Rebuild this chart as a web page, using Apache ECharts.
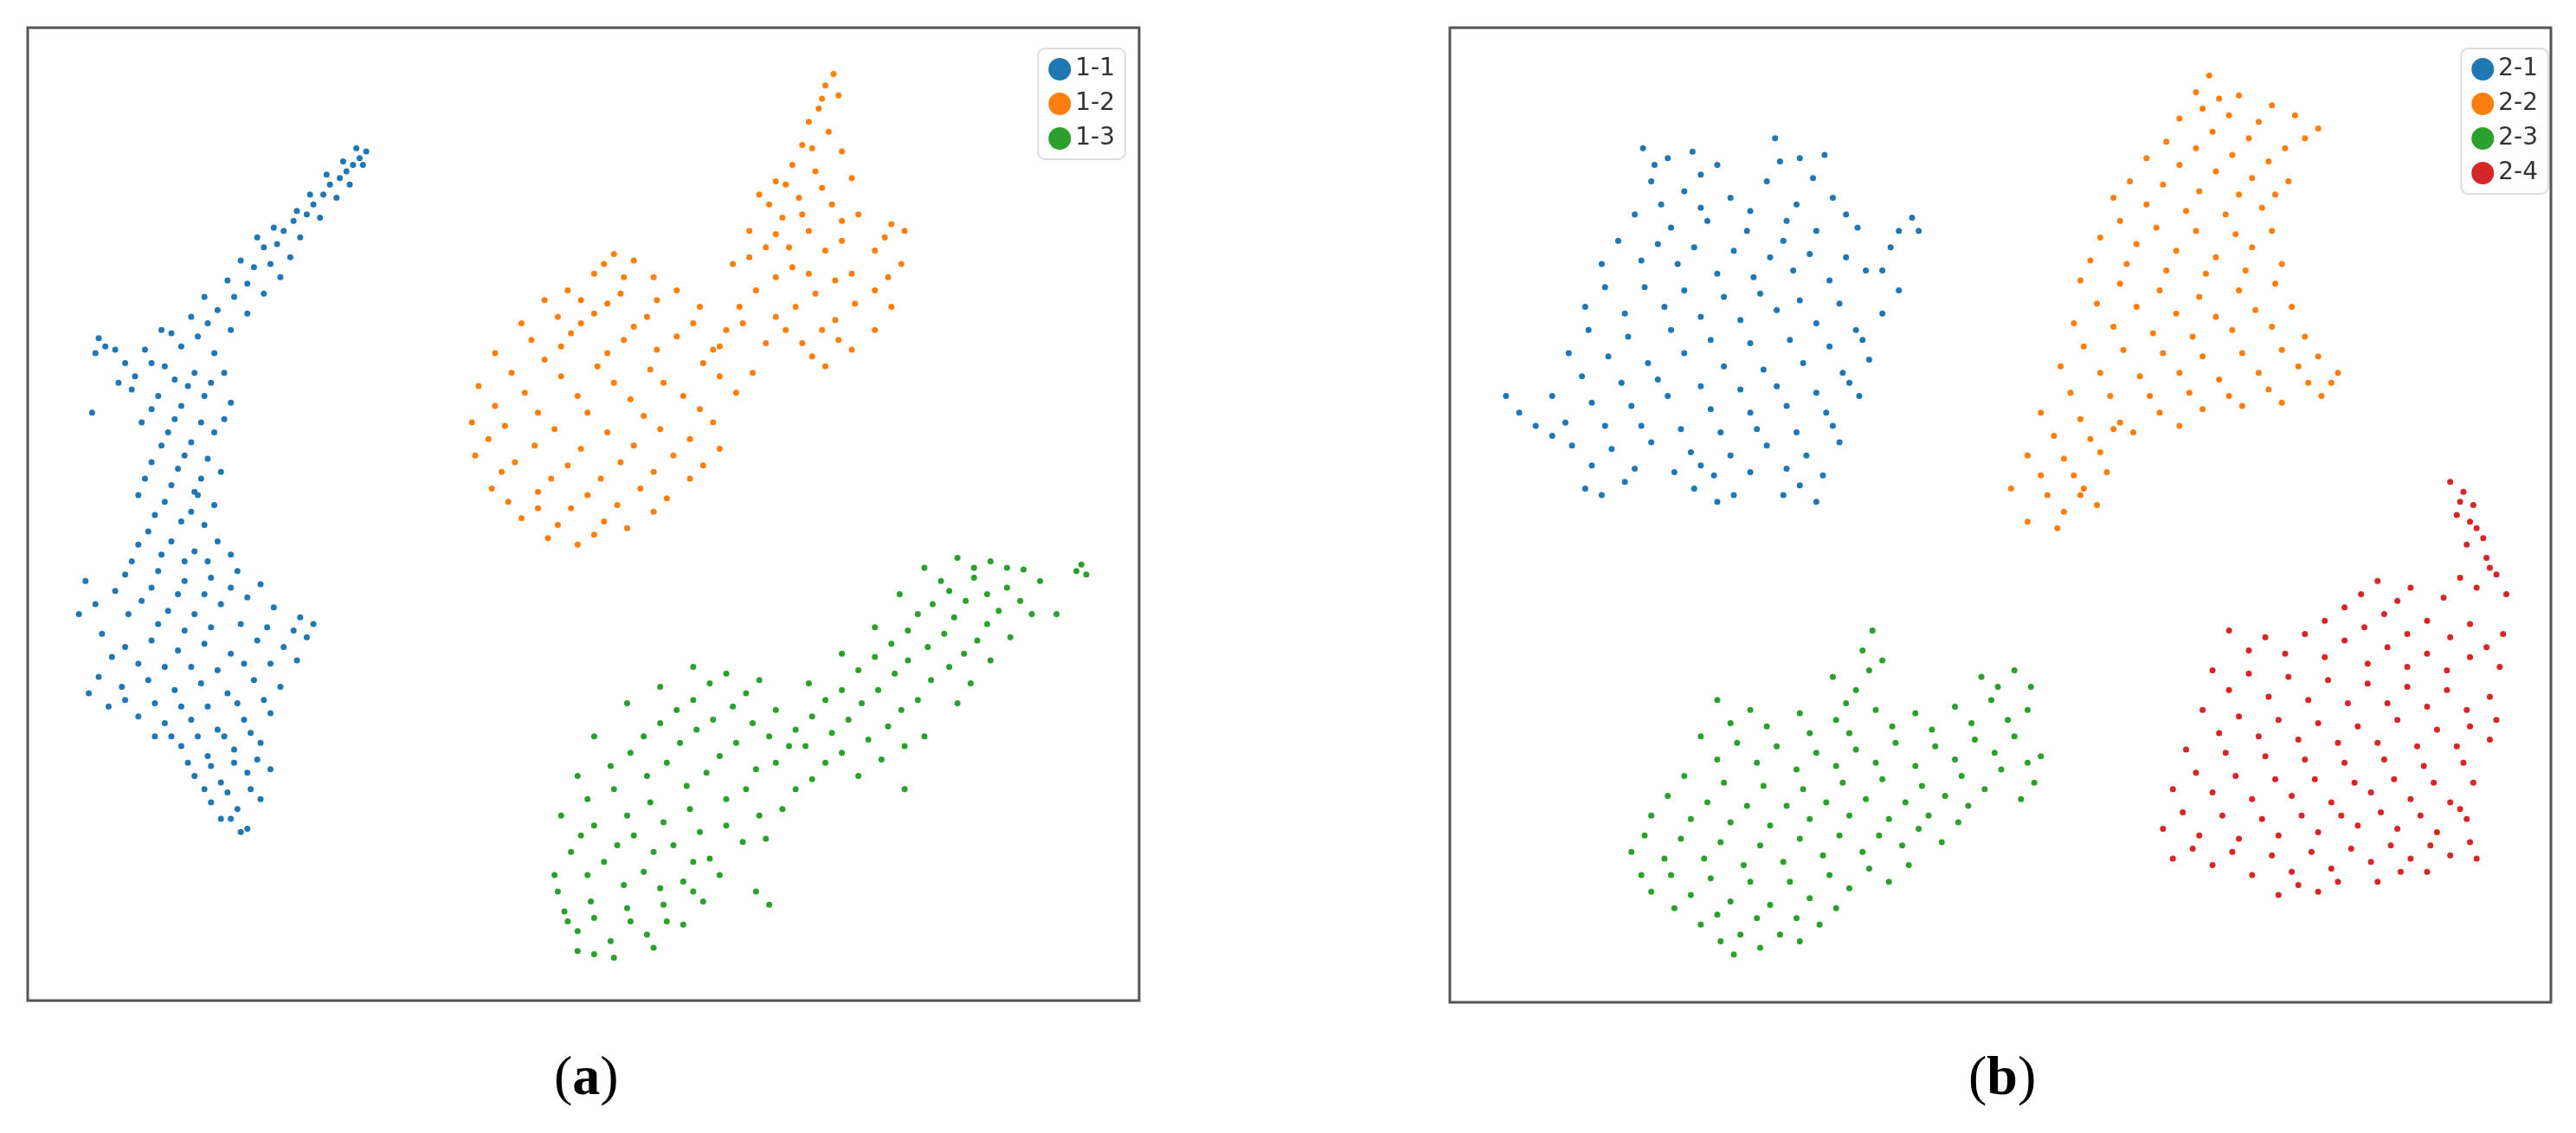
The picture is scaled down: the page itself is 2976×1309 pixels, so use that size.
<!DOCTYPE html>
<html><head><meta charset="utf-8">
<script src="https://cdn.jsdelivr.net/npm/echarts@6/dist/echarts.min.js"></script>
<style>html,body{margin:0;background:#fff}#c{width:2976px;height:1309px}</style>
</head><body><div id="c"></div>
<script>
const a11=[[222,92],[218,96],[214,100],[210,104],[206,108],[220,100],[212,112],[200,112],[196,118],[204,120],[190,124],[186,130],[194,132],[178,134],[172,140],[182,144],[168,148],[160,150],[176,156],[164,160],[154,162],[170,168],[150,172],[160,178],[142,180],[132,188],[150,190],[126,196],[140,200],[120,204],[110,210],[130,214],[60,205],[64,210],[58,214],[76,220],[88,212],[100,222],[118,226],[136,226],[80,236],[96,240],[110,246],[124,240],[140,244],[86,256],[102,262],[116,268],[130,262],[92,280],[108,284],[122,290],[134,286],[84,300],[100,304],[116,310],[130,306],[90,322],[104,328],[118,334],[132,328],[80,340],[96,346],[112,352],[128,350],[144,346],[70,358],[86,364],[102,370],[118,372],[134,366],[150,362],[166,368],[182,374],[190,378],[48,372],[52,352],[62,384],[76,392],[92,388],[108,394],[124,390],[140,396],[156,388],[172,392],[186,386],[60,410],[74,416],[90,412],[106,418],[122,414],[138,420],[154,412],[170,416],[66,428],[84,434],[100,438],[116,436],[132,442],[148,436],[164,432],[110,452],[126,458],[142,454],[158,450],[118,470],[134,474],[150,468],[164,466],[128,486],[144,490],[158,484],[150,502],[140,496],[120,300],[72,232],[56,250],[98,200],[106,230],
[216,90],[208,98],[198,106],[188,118],[180,128],[166,138],[156,144],[146,158],[138,170],[124,180],[116,192],[104,202],[92,220],[70,212],[82,228],[114,234],[128,232],[92,248],[106,254],[122,256],[136,254],[98,270],[112,276],[126,278],[88,290],[104,294],[118,298],[94,312],[110,316],[124,318],[84,330],[98,336],[112,340],[126,340],[140,336],[76,348],[92,356],[108,360],[124,360],[140,356],[158,354],[58,366],[78,372],[96,378],[112,382],[128,380],[146,378],[162,380],[178,382],[68,398],[84,402],[100,404],[116,404],[132,406],[148,402],[164,402],[180,400],[54,420],[76,424],[94,426],[110,428],[126,428],[144,426],[160,424],[94,446],[104,446],[120,446],[136,446],[152,444],[114,462],[128,464],[142,462],[156,460],[124,478],[138,480],[152,478],[134,496],[146,504]];
const a12=[[505,45],[500,52],[508,58],[496,66],[490,74],[502,80],[486,88],[510,92],[480,100],[494,104],[470,110],[516,108],[460,118],[484,120],[504,124],[474,132],[520,130],[454,140],[490,140],[540,136],[548,140],[464,150],[500,152],[530,152],[444,160],[480,162],[516,166],[546,160],[458,176],[494,178],[530,176],[470,192],[506,194],[540,186],[486,208],[516,212],[500,222],[476,200],[450,196],[436,210],[530,200],[372,154],[384,158],[360,166],[396,168],[344,176],[376,178],[410,176],[330,182],[360,190],[392,192],[424,186],[316,196],[346,202],[378,206],[410,204],[440,200],[300,214],[330,218],[362,222],[394,224],[426,220],[456,226],[290,234],[318,238],[350,240],[382,242],[414,240],[446,238],[286,256],[306,258],[336,260],[368,262],[400,260],[432,256],[288,276],[312,280],[344,282],[376,280],[408,276],[436,272],[298,296],[326,298],[356,300],[388,296],[418,290],[316,314],[338,318],[366,316],[396,310],[350,330],[332,326],[380,320],
[498,60],[492,90],[476,112],[498,114],[466,124],[486,130],[510,134],[470,142],[478,150],[510,146],[536,144],[454,156],[470,168],[490,166],[506,170],[538,168],[448,186],[482,186],[518,184],[498,200],[464,208],[492,216],[508,206],[366,160],[378,168],[352,182],[368,184],[398,182],[338,192],[352,196],[384,198],[420,196],[322,206],[340,210],[368,214],[398,212],[432,212],[310,226],[340,228],[372,232],[402,232],[436,228],[300,246],[326,250],[356,250],[390,252],[424,248],[296,266],[324,270],[352,272],[384,270],[418,266],[304,286],[334,290],[364,290],[396,286],[426,282],[308,304],[346,308],[374,306],[404,302],[326,308],[360,324]];
const a13=[[655,342],[658,348],[652,346],[620,345],[600,340],[580,338],[560,344],[570,352],[590,350],[610,356],[630,352],[545,360],[565,366],[585,364],[605,370],[625,372],[640,372],[530,380],[550,382],[572,384],[592,388],[612,386],[510,396],[530,398],[550,400],[575,404],[600,400],[490,414],[510,418],[532,418],[556,424],[580,426],[470,430],[492,434],[514,436],[538,440],[560,446],[420,404],[440,408],[460,412],[400,416],[420,424],[444,428],[466,446],[488,452],[510,456],[534,460],[548,478],[380,426],[400,438],[422,442],[446,450],[470,462],[492,472],[360,446],[382,456],[404,462],[428,468],[452,478],[474,490],[350,470],[372,478],[394,486],[418,490],[440,500],[464,508],[340,494],[360,500],[384,506],[408,512],[430,520],[346,516],[366,522],[390,528],[414,534],[338,540],[358,546],[380,550],[402,548],[426,546],[350,564],[370,570],[392,566],[414,560],[360,578],[466,548],[458,540],[436,530],[336,530],[342,552],
[610,344],[590,344],[575,358],[598,360],[618,364],[556,372],[578,374],[598,378],[540,390],[562,392],[584,396],[520,406],[542,408],[564,412],[588,414],[500,424],[522,426],[546,430],[482,442],[504,444],[526,448],[548,452],[430,414],[452,420],[410,430],[432,436],[456,438],[478,452],[500,462],[520,470],[390,446],[412,450],[436,458],[458,466],[482,478],[370,464],[392,470],[416,476],[440,484],[460,494],[356,484],[380,494],[402,498],[424,504],[450,510],[352,506],[374,512],[396,516],[420,522],[356,530],[378,536],[400,538],[420,540],[344,558],[360,556],[382,558],[404,558],[372,580],[350,576],[396,574]];
const b21=[[995,90],[1010,96],[1025,92],[1040,100],[1075,84],[1090,96],[1105,94],[1000,110],[1020,116],[1048,120],[1070,110],[1088,124],[1110,120],[990,130],[1012,138],[1034,134],[1058,140],[1080,146],[1100,140],[1125,138],[1145,150],[1158,132],[1162,140],[970,160],[994,158],[1016,160],[1040,166],[1062,168],[1086,164],[1108,170],[1130,164],[1150,176],[960,186],[984,190],[1008,186],[1030,192],[1054,194],[1076,188],[1100,196],[1124,200],[1140,190],[950,214],[974,216],[998,220],[1020,214],[1044,222],[1068,224],[1092,220],[1116,226],[1132,218],[940,240],[964,244],[988,246],[1010,240],[1036,248],[1060,250],[1082,246],[1106,250],[1126,240],[952,270],[976,272],[1000,268],[1024,274],[1048,276],[1070,270],[1094,276],[1114,268],[960,296],[984,292],[1026,296],[1050,300],[1090,294],[1100,304],[912,240],[920,250],[930,258],[940,264],[970,300],
[1002,100],[1030,106],[1078,98],[1098,108],[1006,124],[1030,126],[1060,128],[1082,134],[1118,130],[1150,140],[980,146],[1004,148],[1026,150],[1050,152],[1072,156],[1096,154],[1118,156],[1140,164],[972,174],[996,174],[1020,176],[1044,180],[1066,178],[1090,182],[1114,184],[962,200],[986,204],[1012,200],[1036,206],[1060,208],[1084,206],[1108,210],[1128,206],[958,228],[982,232],[1004,230],[1030,234],[1054,236],[1076,234],[1100,238],[1120,232],[948,256],[972,258],[994,258],[1018,260],[1042,262],[1064,260],[1088,262],[1110,258],[964,282],[990,284],[1014,286],[1038,288],[1060,286],[1082,284],[1104,288],[1030,282],[1040,304],[1080,300]];
const b22=[[1338,46],[1330,56],[1344,60],[1356,58],[1376,64],[1390,70],[1404,78],[1320,72],[1340,80],[1362,84],[1384,90],[1300,96],[1320,100],[1342,104],[1364,108],[1280,120],[1300,124],[1324,128],[1348,130],[1370,126],[1272,144],[1294,148],[1318,152],[1342,156],[1364,150],[1260,170],[1284,172],[1308,176],[1332,180],[1356,176],[1378,172],[1256,196],[1280,198],[1304,202],[1328,204],[1352,200],[1376,198],[1396,204],[1248,222],[1272,226],[1296,228],[1320,226],[1344,230],[1368,226],[1392,222],[1412,232],[1236,250],[1260,254],[1284,256],[1308,250],[1334,248],[1358,246],[1382,244],[1406,240],[1228,276],[1250,278],[1272,274],[1218,296],[1240,300],[1262,296],[1228,316],[1250,310],[1270,306],[1386,110],[1280,260],
[1334,66],[1350,70],[1368,74],[1396,84],[1312,86],[1330,90],[1352,94],[1374,98],[1290,110],[1310,112],[1332,116],[1356,118],[1378,118],[1284,134],[1306,138],[1330,140],[1354,142],[1376,140],[1266,158],[1288,160],[1312,164],[1336,166],[1360,164],[1382,160],[1270,184],[1294,186],[1318,190],[1342,192],[1366,188],[1388,186],[1262,210],[1286,212],[1310,214],[1334,216],[1358,214],[1382,212],[1404,216],[1254,238],[1278,240],[1302,240],[1326,238],[1350,240],[1374,236],[1398,232],[1416,226],[1244,264],[1266,266],[1292,262],[1320,258],[1236,288],[1256,288],[1276,286],[1246,320],[1260,300]];
const b23=[[1134,382],[1128,394],[1140,400],[1110,410],[1124,418],[1200,410],[1220,406],[1230,416],[1040,424],[1060,430],[1090,432],[1112,436],[1136,430],[1160,432],[1184,428],[1206,424],[1228,430],[1030,446],[1052,450],[1076,452],[1100,456],[1124,454],[1148,450],[1172,452],[1196,448],[1220,446],[1236,458],[1020,470],[1044,474],[1068,476],[1092,478],[1116,474],[1140,472],[1164,476],[1188,470],[1212,466],[1232,474],[1000,494],[1024,496],[1048,498],[1072,500],[1096,496],[1120,494],[1144,496],[1168,494],[1192,488],[988,516],[1008,520],[1032,520],[1056,524],[1080,522],[1104,518],[1128,516],[1152,512],[1176,510],[1000,540],[1024,542],[1048,546],[1072,548],[1096,544],[1120,538],[1144,534],[1030,560],[1054,566],[1078,566],[1102,560],[1050,578],[1066,574],
[1132,406],[1118,426],[1210,416],[1048,438],[1070,440],[1096,444],[1120,444],[1146,440],[1170,442],[1194,438],[1216,436],[1040,460],[1064,462],[1088,466],[1112,464],[1136,462],[1160,464],[1184,460],[1208,456],[1228,462],[1010,482],[1034,486],[1058,488],[1082,488],[1106,486],[1130,484],[1154,486],[1178,482],[1202,478],[1224,484],[996,506],[1018,508],[1042,510],[1066,512],[1090,508],[1114,506],[1138,506],[1162,502],[1186,498],[1012,530],[1036,532],[1060,534],[1084,534],[1108,530],[1132,526],[1156,524],[1014,550],[1040,554],[1064,556],[1088,556],[1112,550],[1042,570],[1090,570],[994,530]];
const b24=[[1484,292],[1492,298],[1498,306],[1488,312],[1500,320],[1494,330],[1506,338],[1512,348],[1500,356],[1518,360],[1440,352],[1460,356],[1480,362],[1420,368],[1444,372],[1470,376],[1496,378],[1516,384],[1350,382],[1372,386],[1396,384],[1420,388],[1446,392],[1470,396],[1496,398],[1514,404],[1340,406],[1362,408],[1386,410],[1410,412],[1434,414],[1458,416],[1482,418],[1508,422],[1512,436],[1334,430],[1356,434],[1380,436],[1404,438],[1428,440],[1452,436],[1476,442],[1496,440],[1324,454],[1348,456],[1372,458],[1396,460],[1420,462],[1444,460],[1468,464],[1492,462],[1316,478],[1340,480],[1364,484],[1388,482],[1412,486],[1436,480],[1460,484],[1484,486],[1310,502],[1332,506],[1356,508],[1380,506],[1404,504],[1428,500],[1452,502],[1476,504],[1494,496],[1316,520],[1340,524],[1364,530],[1388,528],[1412,526],[1436,522],[1460,520],[1484,518],[1380,542],[1404,540],[1440,534],[1470,528],
[1490,304],[1496,316],[1504,326],[1508,344],[1490,350],[1452,364],[1430,360],[1408,376],[1432,380],[1458,384],[1484,386],[1506,392],[1362,394],[1384,396],[1408,398],[1434,402],[1458,404],[1482,406],[1350,418],[1374,422],[1398,424],[1422,426],[1446,426],[1470,428],[1494,430],[1344,444],[1368,446],[1392,448],[1416,450],[1440,450],[1464,452],[1488,452],[1508,448],[1330,468],[1354,470],[1378,472],[1402,472],[1426,474],[1450,472],[1474,474],[1498,474],[1322,492],[1346,494],[1370,496],[1394,494],[1418,494],[1442,492],[1466,494],[1490,490],[1328,514],[1352,516],[1376,518],[1400,516],[1424,514],[1448,512],[1472,512],[1496,510],[1392,536],[1416,534],[1454,528],[1500,520]];
const C=['#1f77b4','#ff7f0e','#2ca02c','#d62728'];
const ax=(i,min,max,inv)=>({gridIndex:i,min,max,inverse:inv,show:false});
const ser=(name,data,i,c)=>({name,type:'scatter',xAxisIndex:i,yAxisIndex:i,data,symbolSize:7,itemStyle:{color:c,opacity:1}});
const lg=(data,right)=>({data,orient:'vertical',right,top:56,icon:'circle',itemWidth:26,itemHeight:26,itemGap:12,
  padding:[10,12],borderColor:'#ddd',borderWidth:2,borderRadius:8,textStyle:{fontSize:28,color:'#333',fontFamily:'DejaVu Sans'}});
echarts.init(document.getElementById('c')).setOption({
  animation:false,
  grid:[{left:32,top:32,width:1284,height:1124,show:true,borderColor:'#555',borderWidth:3},
        {left:1675,top:32,width:1272,height:1126,show:true,borderColor:'#555',borderWidth:3}],
  xAxis:[ax(0,17,690,false),ax(1,878,1545,false)],
  yAxis:[ax(0,17,606,true),ax(1,17,607,true)],
  legend:[lg(['1-1','1-2','1-3'],1676),lg(['2-1','2-2','2-3','2-4'],32)],
  series:[ser('1-1',a11,0,C[0]),ser('1-2',a12,0,C[1]),ser('1-3',a13,0,C[2]),
          ser('2-1',b21,1,C[0]),ser('2-2',b22,1,C[1]),ser('2-3',b23,1,C[2]),ser('2-4',b24,1,C[3])],
  graphic:[
    {type:'text',left:640,top:1215,style:{text:'({b|a})',rich:{b:{fontWeight:'bold',fontSize:64,fontFamily:'Liberation Serif'}},fontSize:64,fontFamily:'Liberation Serif',fill:'#000'}},
    {type:'text',left:2274,top:1215,style:{text:'({b|b})',rich:{b:{fontWeight:'bold',fontSize:64,fontFamily:'Liberation Serif'}},fontSize:64,fontFamily:'Liberation Serif',fill:'#000'}}
  ]
});
</script></body></html>
